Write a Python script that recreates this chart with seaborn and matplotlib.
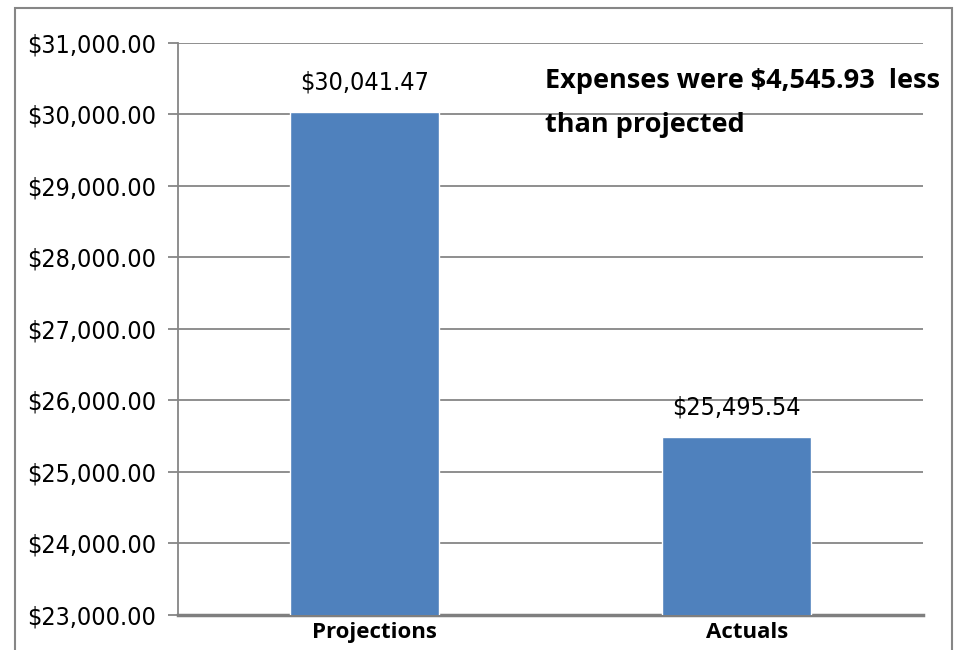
import matplotlib
matplotlib.use('Agg')
import matplotlib.pyplot as plt
import matplotlib.patches as mpatches
import seaborn as sns
import pandas as pd

# chart values
categories = ['Projections', 'Actuals']
amounts = [30041.47, 25495.54]
y_ticks = [23000, 24000, 25000, 26000, 27000, 28000, 29000, 30000, 31000]
note = 'Expenses were $4,545.93  less\nthan projected'

df = pd.DataFrame({'Category': categories, 'Amount': amounts})

sns.set_style('white')
plt.rcParams['font.family'] = ['DejaVu Sans']
plt.rcParams['font.stretch'] = 'condensed'
plt.rcParams['text.color'] = 'black'

fig = plt.figure(figsize=(9.61, 6.5), dpi=100)
ax = fig.add_axes([178 / 961, 1 - 615 / 650, 745 / 961, 572 / 650])

sns.barplot(data=df, x='Category', y='Amount', color='#4F81BD', width=0.4,
            saturation=1, ax=ax, zorder=3)

ax.set_ylim(23000, 31000)
ax.set_xlim(-0.5, 1.5)
ax.set_yticks(y_ticks)
ax.set_yticklabels(['${:,.2f}'.format(v) for v in y_ticks], fontsize=18)
ax.set_xticks(range(len(categories)))
ax.set_xticklabels([])
ax.set_xlabel('')
ax.set_ylabel('')

# category names, a little right of the bar centres as Excel draws them
for i, name in enumerate(categories):
    ax.annotate(name, xy=(i, 0), xycoords=ax.get_xaxis_transform(),
                xytext=(7.5, -5), textcoords='offset points', ha='center', va='top',
                fontsize=16, fontweight='bold', family='Open Sans', stretch='normal',
                annotation_clip=False)

ax.grid(axis='y', color='#868686', linewidth=1.3, zorder=0)
for s in ['top', 'right']:
    ax.spines[s].set_visible(False)
ax.spines['left'].set_color('#868686')
ax.spines['left'].set_linewidth(1.3)
ax.spines['bottom'].set_color('#7F7F7F')
ax.spines['bottom'].set_linewidth(2.5)
ax.tick_params(axis='y', length=7, width=1.3, color='#868686', labelcolor='black',
               pad=9, left=True)
ax.tick_params(axis='x', length=0)

ax.bar_label(ax.containers[0], labels=['${:,.2f}'.format(v) for v in amounts],
             fontsize=18, padding=12, color='black')

ax.text(0.485, 30650, note, fontsize=19.5, fontweight='bold', family='Open Sans',
        stretch='normal', va='top', ha='left', linespacing=1.9, color='black')

# outer frame of the chart area
fig.patches.append(mpatches.Rectangle((15 / 961, -0.05), 937 / 961, 1.05 - 8 / 650,
                                      transform=fig.transFigure, fill=False,
                                      edgecolor='#868686', linewidth=1.5))

fig.savefig('out.png', dpi=100)
